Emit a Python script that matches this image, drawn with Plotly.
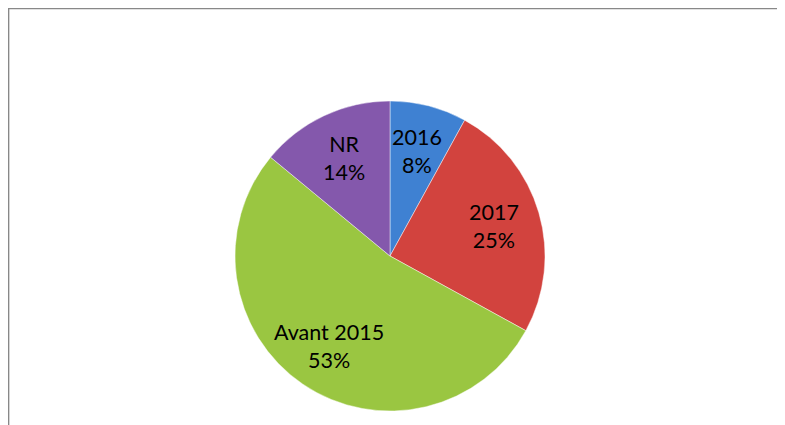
import math
import plotly.graph_objects as go

labels = ["2016", "2017", "Avant 2015", "NR"]
values = [8, 25, 53, 14]
colors = ["#3F81D2", "#D2433E", "#9AC641", "#8458AC"]

# page has an 8px body margin, so the figure starts at (8, 8) in the window;
# it is drawn a little larger than the window and the overflow is hidden
W, H = 800, 430
cx, cy, r = 382, 248, 155

fig = go.Figure(go.Pie(
    labels=labels,
    values=values,
    sort=False,
    direction="clockwise",
    rotation=0,
    marker=dict(colors=colors, line=dict(color="rgba(255,255,255,0.45)", width=1)),
    textinfo="none",
    showlegend=False,
    hoverinfo="label+percent",
    domain=dict(x=[(cx - r) / W, (cx + r) / W], y=[(H - cy - r) / H, (H - cy + r) / H]),
))

# data labels placed along each slice's mid-angle
total = sum(values)
annotations = []
cum = 0
for lab, val in zip(labels, values):
    mid = (cum + val / 2) / total * 2 * math.pi
    cum += val
    frac = 0.7
    px = cx + frac * r * math.sin(mid)
    py = cy - frac * r * math.cos(mid)
    annotations.append(dict(
        x=px / W, y=1 - py / H, xref="paper", yref="paper",
        xanchor="center", yanchor="middle",
        text=f"{lab}<br>{round(val / total * 100)}%",
        showarrow=False, align="center",
        font=dict(family="Lato", size=21.5, color="#000000"),
    ))

fig.update_layout(
    width=W, height=H,
    margin=dict(l=0, r=0, t=0, b=0),
    paper_bgcolor="white",
    plot_bgcolor="white",
    annotations=annotations,
    shapes=[dict(type="rect", xref="paper", yref="paper",
                 x0=0.6 / W, x1=1.2, y0=-0.2, y1=1 - 0.6 / H,
                 line=dict(color="#888888", width=1.5), fillcolor="rgba(0,0,0,0)")],
)

fig.write_html("out.html", config={"displayModeBar": False},
               post_script="document.documentElement.style.overflow='hidden';document.body.style.overflow='hidden';")
